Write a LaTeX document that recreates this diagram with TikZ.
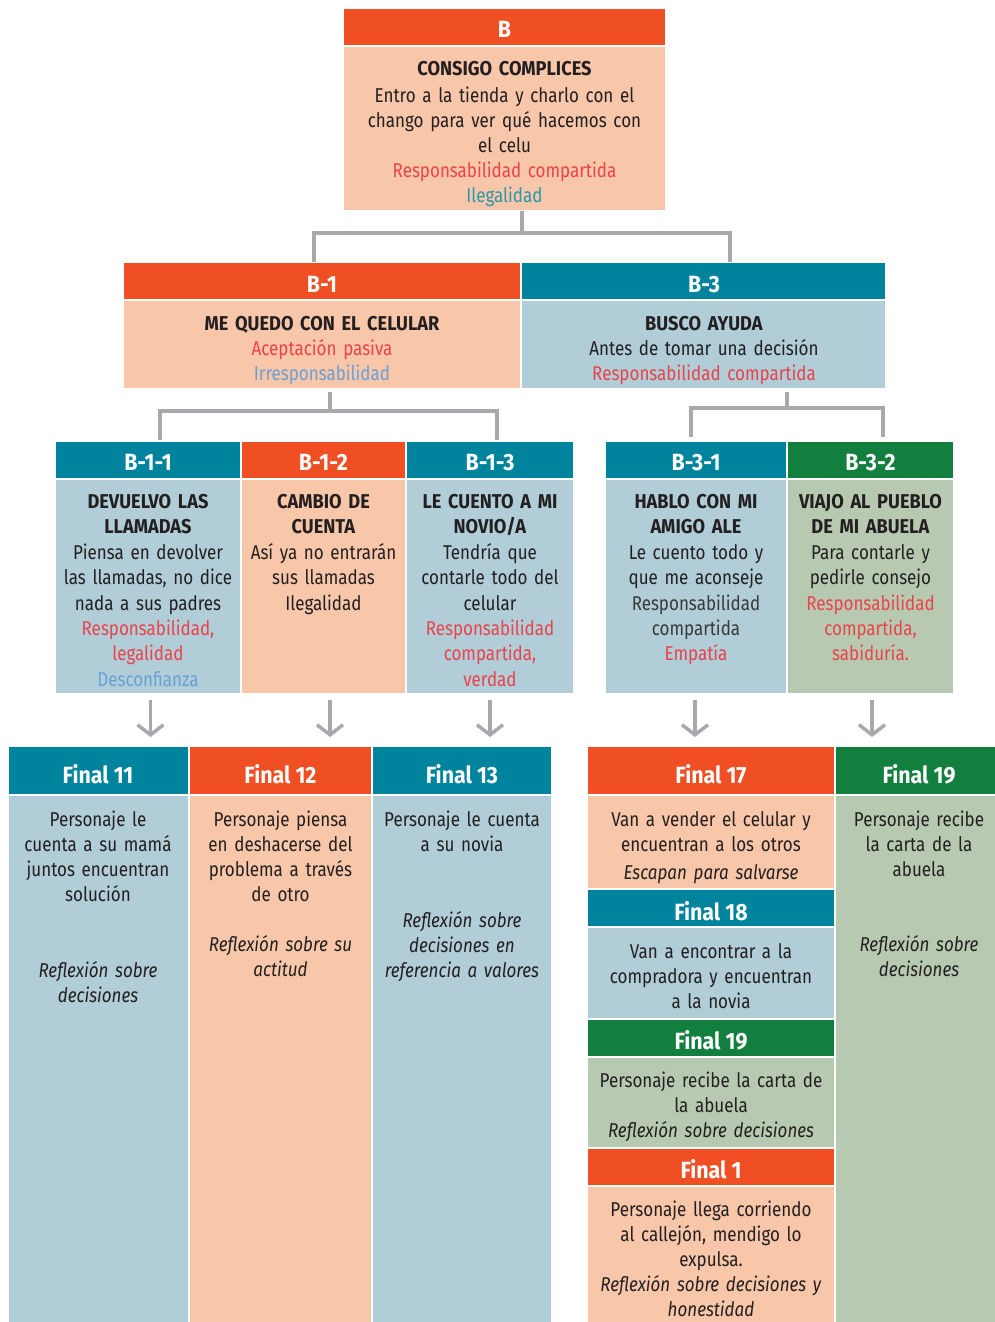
\documentclass[tikz,border=0pt]{standalone}
\usepackage{fontspec}
\setmainfont{Fira Sans}[FakeStretch=0.85, BoldFeatures={FakeStretch=0.91}]
\usetikzlibrary{arrows.meta}
\definecolor{cOr}{HTML}{F04E23}
\definecolor{cPe}{HTML}{F8C6A9}
\definecolor{cTe}{HTML}{00849E}
\definecolor{cLb}{HTML}{B0CDD8}
\definecolor{cGr}{HTML}{137F3F}
\definecolor{cLg}{HTML}{B7CAB1}
\definecolor{cTx}{HTML}{231F20}
\definecolor{cGy}{HTML}{3A3A3A}
\definecolor{cRd}{HTML}{EC4249}
\definecolor{cTt}{HTML}{2A98AE}
\definecolor{cBl}{HTML}{6AA1D6}
\definecolor{cLn}{HTML}{A7A9AC}
\tikzset{
 bx/.style={draw=white,line width=2pt,inner sep=0pt,outer sep=0pt,anchor=north west},
 hd/.style={text=white,font=\fontsize{23.5}{26}\selectfont\bfseries,anchor=base,inner sep=0pt},
 tx/.style={text=cTx,font=\fontsize{20}{25}\selectfont,align=center,anchor=base,inner sep=0pt},
 tx3/.style={tx,font=\fontsize{20}{25.4}\selectfont},
 conn/.style={draw=cLn,line width=4pt},
 arr/.style={draw=cLn,line width=3.5pt,-{Straight Barb[length=10pt,width=26pt]}},
}
\newcommand\mkbox[6]{\node[bx,fill=#6,minimum width={(#4-#2)*1pt},minimum height={(#5-#3)*1pt}] (#1) at (#2,#3) {};}
\begin{document}
\begin{tikzpicture}[x=1pt,y=-1pt]
\useasboundingbox[fill=white] (0,0) rectangle (994,1322);
% ---- level 0
\mkbox{Bh}{343}{8}{666}{46}{cOr}
\mkbox{Bb}{343}{46}{666}{211}{cPe}
\node[hd] (Bht) at (504.5,37.5) {B};
\node[tx,text width=318pt] (Bt) at (504.5,75.5) {\textbf{CONSIGO COMPLICES}\\[2pt]
 Entro a la tienda y charlo con el\\ chango para ver qué hacemos con\\ el celu\\
 \textcolor{cRd}{Responsabilidad compartida}\\ \textcolor{cTt}{Ilegalidad}};
% ---- level 1
\mkbox{B1h}{123}{262}{521}{300}{cOr}
\mkbox{B1b}{123}{300}{521}{389}{cPe}
\mkbox{B3h}{521}{262}{886}{300}{cTe}
\mkbox{B3b}{521}{300}{886}{389}{cLb}
\node[hd] (B1ht) at (322,292.5) {B-1};
\node[hd] (B3ht) at (704,292.5) {B-3};
\node[tx,text width=380pt] (B1t) at (322,330.5) {\textbf{ME QUEDO CON EL CELULAR}\\
 \textcolor{cRd}{Aceptación pasiva}\\ \textcolor{cBl}{Irresponsabilidad}};
\node[tx,text width=350pt] (B3t) at (704,330.5) {\textbf{BUSCO AYUDA}\\
 Antes de tomar una decisión\\ \textcolor{cRd}{Responsabilidad compartida}};
% ---- level 2
\mkbox{B11h}{55}{441}{241}{479}{cTe}
\mkbox{B11b}{55}{479}{241}{694}{cLb}
\mkbox{B12h}{241}{441}{406}{479}{cOr}
\mkbox{B12b}{241}{479}{406}{694}{cPe}
\mkbox{B13h}{406}{441}{574}{479}{cTe}
\mkbox{B13b}{406}{479}{574}{694}{cLb}
\mkbox{B31h}{605}{441}{787}{479}{cTe}
\mkbox{B31b}{605}{479}{787}{694}{cLb}
\mkbox{B32h}{787}{441}{954}{479}{cGr}
\mkbox{B32b}{787}{479}{954}{694}{cLg}
\node[hd] (B11ht) at (148,470.5) {B-1-1};
\node[hd] (B12ht) at (323.5,470.5) {B-1-2};
\node[hd] (B13ht) at (490,470.5) {B-1-3};
\node[hd] (B31ht) at (696,470.5) {B-3-1};
\node[hd] (B32ht) at (870.5,470.5) {B-3-2};
\node[tx3,text width=186pt] (B11t) at (148,508.5) {\textbf{DEVUELVO LAS}\\ \textbf{LLAMADAS}\\
 Piensa en devolver\\ las llamadas, no dice\\ nada a sus padres\\
 \textcolor{cRd}{Responsabilidad,}\\ \textcolor{cRd}{legalidad}\\ \textcolor{cBl}{Desconfianza}};
\node[tx3,text width=165pt] (B12t) at (323.5,508.5) {\textbf{CAMBIO DE}\\ \textbf{CUENTA}\\
 Así ya no entrarán\\ sus llamadas\\ Ilegalidad};
\node[tx3,text width=168pt] (B13t) at (490,508.5) {\textbf{LE CUENTO A MI}\\ \textbf{NOVIO/A}\\
 Tendría que\\ contarle todo del\\ celular\\
 \textcolor{cRd}{Responsabilidad}\\ \textcolor{cRd}{compartida,}\\ \textcolor{cRd}{verdad}};
\node[tx3,text width=182pt] (B31t) at (696,508.5) {\textbf{HABLO CON MI}\\ \textbf{AMIGO ALE}\\
 Le cuento todo y\\ que me aconseje\\ \textcolor{cGy}{Responsabilidad}\\ \textcolor{cGy}{compartida}\\
 \textcolor{cRd}{Empatía}};
\node[tx3,text width=167pt] (B32t) at (870.5,508.5) {\textbf{VIAJO AL PUEBLO}\\ \textbf{DE MI ABUELA}\\
 Para contarle y\\ pedirle consejo\\ \textcolor{cRd}{Responsabilidad}\\ \textcolor{cRd}{compartida,}\\
 \textcolor{cRd}{sabiduría.}};
% ---- finals
\mkbox{F11h}{8}{746}{189}{795}{cTe}
\mkbox{F11b}{8}{795}{189}{1325}{cLb}
\mkbox{F12h}{189}{746}{372}{795}{cOr}
\mkbox{F12b}{189}{795}{372}{1325}{cPe}
\mkbox{F13h}{372}{746}{552}{795}{cTe}
\mkbox{F13b}{372}{795}{552}{1325}{cLb}
\mkbox{F17h}{587}{746}{835}{795}{cOr}
\mkbox{F17b}{587}{795}{835}{889}{cPe}
\mkbox{F18h}{587}{889}{835}{927}{cTe}
\mkbox{F18b}{587}{927}{835}{1019}{cLb}
\mkbox{F19ah}{587}{1019}{835}{1057}{cGr}
\mkbox{F19ab}{587}{1057}{835}{1148}{cLg}
\mkbox{F1h}{587}{1148}{835}{1186}{cOr}
\mkbox{F1b}{587}{1186}{835}{1325}{cPe}
\mkbox{F19bh}{835}{746}{997}{795}{cGr}
\mkbox{F19bb}{835}{795}{997}{1325}{cLg}
\node[hd] (F11ht) at (98,783) {Final 11};
\node[hd] (F12ht) at (280.5,783) {Final 12};
\node[hd] (F13ht) at (462,783) {Final 13};
\node[hd] (F17ht) at (711,783) {Final 17};
\node[hd] (F18ht) at (711,920) {Final 18};
\node[hd] (F19aht) at (711,1049) {Final 19};
\node[hd] (F1ht) at (711,1178) {Final 1};
\node[hd] (F19bht) at (919,783) {Final 19};
\node[tx,text width=181pt] (F11t) at (98,826) {Personaje le\\ cuenta a su mamá\\ juntos encuentran\\ solución\\[51pt]
 \textit{Reflexión sobre}\\ \textit{decisiones}};
\node[tx,text width=183pt] (F12t) at (280.5,826) {Personaje piensa\\ en deshacerse del\\ problema a través\\ de otro\\[25pt]
 \textit{Reflexión sobre su}\\ \textit{actitud}};
\node[tx,text width=180pt] (F13t) at (462,826) {Personaje le cuenta\\ a su novia\\[51pt]
 \textit{Reflexión sobre}\\ \textit{decisiones en}\\ \textit{referencia a valores}};
\node[tx,text width=248pt] (F17t) at (711,826) {Van a vender el celular y\\ encuentran a los otros\\[3pt]
 \textit{Escapan para salvarse}};
\node[tx,text width=248pt] (F18t) at (711,958) {Van a encontrar a la\\ compradora y encuentran\\ a la novia};
\node[tx,text width=248pt] (F19at) at (711,1087) {Personaje recibe la carta de\\ la abuela\\
 \textit{Reflexión sobre decisiones}};
\node[tx,text width=248pt] (F1t) at (711,1216) {Personaje llega corriendo\\ al callejón, mendigo lo\\ expulsa.\\
 \textit{Reflexión sobre decisiones y}\\ \textit{honestidad}};
\node[tx,text width=160pt] (F19bt) at (919,826) {Personaje recibe\\ la carta de la\\ abuela\\[50pt]
 \textit{Reflexión sobre}\\ \textit{decisiones}};
% ---- connectors
\draw[conn] ([xshift=17.5pt]Bb.south) -- ++(0,22) coordinate (jB);
\draw[conn] ([xshift=-8pt]B1h.north) |- (jB) -| ([xshift=26.5pt]B3h.north);
\draw[conn] ([xshift=8pt,yshift=-3pt]B1b.south) -- ++(0,19) coordinate (jB1);
\draw[conn] ([xshift=12pt,yshift=1pt]B11h.north) |- (jB1) -| ([xshift=7pt,yshift=1pt]B13h.north);
\draw[conn] ([xshift=83.5pt,yshift=-3pt]B3b.south) -- ++(0,16) coordinate (jB3);
\draw[conn] ([xshift=-5pt,yshift=4pt]B31h.north) |- (jB3) -| ([xshift=12.5pt,yshift=4pt]B32h.north);
% ---- arrows
\path ([xshift=2.5pt]B11b.south) ++(0,6) coordinate (a1s) ++(0,37) coordinate (a1e);
\path ([xshift=6.5pt]B12b.south) ++(0,6) coordinate (a2s) ++(0,37) coordinate (a2e);
\path ([xshift=0pt]B13b.south) ++(0,6) coordinate (a3s) ++(0,37) coordinate (a3e);
\path ([xshift=-1pt]B31b.south) ++(0,6) coordinate (a4s) ++(0,37) coordinate (a4e);
\path ([xshift=1.5pt]B32b.south) ++(0,6) coordinate (a5s) ++(0,37) coordinate (a5e);
\foreach \i in {1,...,5} {\draw[arr] (a\i s) -- (a\i e);}
\end{tikzpicture}
\end{document}
